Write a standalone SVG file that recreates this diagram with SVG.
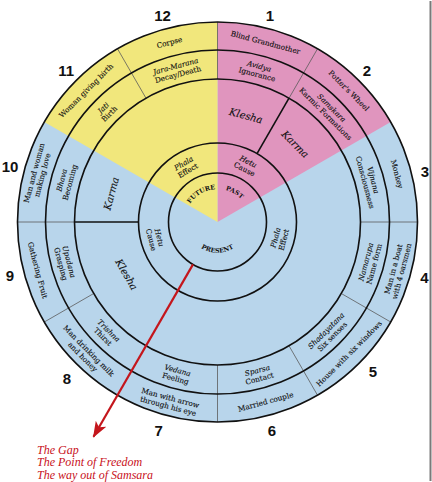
<svg xmlns="http://www.w3.org/2000/svg" width="432" height="482" viewBox="0 0 432 482">
<style>
.t{font-family:"DejaVu Serif",serif;font-size:7.3px;fill:#111;stroke:#111;stroke-width:0.12;text-anchor:middle}
.i{font-style:italic}
.big{font-size:10px;font-style:italic}
.num{font-family:"Liberation Sans",Arial,sans-serif;font-weight:bold;font-size:15px;fill:#111;text-anchor:middle}
.cap{font-family:"DejaVu Serif",serif;font-weight:bold;font-size:6.3px;fill:#111;text-anchor:middle}
.red{font-family:"Liberation Serif",serif;font-style:italic;font-size:12px;fill:#c8101a}
.ring{fill:none;stroke:#111;stroke-width:1.6}
.thin{stroke:#5a5a5a;stroke-width:0.8}
.thick{stroke:#111;stroke-width:1.6}
</style>
<defs>
<marker id="ah" markerUnits="userSpaceOnUse" markerWidth="17" markerHeight="13" refX="15" refY="6" orient="auto">
<path d="M0,0 L16,6 L0,12 L4,6 z" fill="#c4161c"/>
</marker>
<path id="presentArc" d="M186.8,222 A30.7 30.7 0 0 0 248.2,222"/>
<path id="topArc" d="M184.5,222 A33 33 0 0 1 250.5,222"/>
</defs>
<line x1="430.5" y1="1" x2="430.5" y2="481" stroke="#7a7a7a" stroke-width="2"/>
<g id="wheel">
<circle cx="217.5" cy="222" r="200" fill="#b8d5eb"/>
<path d="M217.5,222 L217.5,22 A200 200 0 0 1 390.7,122 Z" fill="#e095be"/>
<path d="M217.5,222 L44.3,122 A200 200 0 0 1 217.5,22 Z" fill="#f1e77c"/>
</g>
<g id="connectors">
<line class="thin" x1="217.5" y1="79" x2="217.5" y2="22"/>
<line class="thin" x1="289" y1="98.2" x2="317.5" y2="48.8"/>
<line class="thin" x1="360.5" y1="222" x2="417.5" y2="222"/>
<line class="thin" x1="341.3" y1="293.5" x2="390.7" y2="322"/>
<line class="thin" x1="289" y1="345.8" x2="317.5" y2="395.2"/>
<line class="thin" x1="217.5" y1="365" x2="217.5" y2="422"/>
<line class="thin" x1="93.7" y1="293.5" x2="44.3" y2="322"/>
<line class="thin" x1="74.5" y1="222" x2="17.5" y2="222"/>
<line class="thin" x1="146" y1="98.2" x2="117.5" y2="48.8"/>
<line class="thick" x1="257" y1="153.6" x2="289" y2="98.2"/>
<line class="thick" x1="138.5" y1="222" x2="74.5" y2="222"/>
<circle class="ring" cx="217.5" cy="222" r="200"/>
<circle class="ring" cx="217.5" cy="222" r="172"/>
<circle class="ring" cx="217.5" cy="222" r="143"/>
<circle class="ring" cx="217.5" cy="222" r="79"/>
<circle class="ring" cx="217.5" cy="222" r="49"/>
<line id="gap-arrow" x1="193" y1="264.4" x2="93.5" y2="436.8" stroke="#c4161c" stroke-width="2.2" marker-end="url(#ah)"/>
</g>
<g id="outer-ring">
<g id="o1" transform="translate(265.6,42.3) rotate(15)"><text class="t" y="2.7">Blind Grandmother</text></g>
<g id="o2" transform="translate(349,90.5) rotate(45)"><text class="t" y="2.7">Potter's Wheel</text></g>
<g id="o3" transform="translate(397.2,173.9) rotate(75)"><text class="t" y="2.7">Monkey</text></g>
<g id="o4" transform="translate(397.2,270.1) rotate(-75)"><text class="t" y="-1.3">Man in a boat</text><text class="t" y="7.2">with 4 oarsmen</text></g>
<g id="o5" transform="translate(349,353.5) rotate(-45)"><text class="t" y="2.7">House with six windows</text></g>
<g id="o6" transform="translate(265.6,401.7) rotate(-15)"><text class="t" y="2.7">Married couple</text></g>
<g id="o7" transform="translate(169.4,401.7) rotate(15)"><text class="t" y="-1.3">Man with arrow</text><text class="t" y="7.2">through his eye</text></g>
<g id="o8" transform="translate(86,353.5) rotate(45)"><text class="t" y="-1.3">Man drinking milk</text><text class="t" y="7.2">and honey</text></g>
<g id="o9" transform="translate(37.8,270.1) rotate(75)"><text class="t" y="2.7">Gathering Fruit</text></g>
<g id="o10" transform="translate(37.8,173.9) rotate(-75)"><text class="t" y="-1.3">Man and woman</text><text class="t" y="7.2">making love</text></g>
<g id="o11" transform="translate(86,90.5) rotate(-45)"><text class="t" y="2.7">Woman giving birth</text></g>
<g id="o12" transform="translate(169.4,42.3) rotate(-15)"><text class="t" y="2.7">Corpse</text></g>
</g>
<g id="links">
<g id="l1" transform="translate(258.3,69.9) rotate(15)"><text class="t i" y="-1.3">Avidya</text><text class="t" y="7.2">Ignorance</text></g>
<g id="l2" transform="translate(328.9,110.6) rotate(45)"><text class="t i" y="-1.3">Samskara</text><text class="t" y="7.2">Karmic Formations</text></g>
<g id="l3" transform="translate(369.6,181.2) rotate(75)"><text class="t i" y="-1.3">Vijnana</text><text class="t" y="7.2">Consciousness</text></g>
<g id="l4" transform="translate(369.6,262.8) rotate(-75)"><text class="t i" y="-1.3">Namarupa</text><text class="t" y="7.2">Name form</text></g>
<g id="l5" transform="translate(328.9,333.4) rotate(-45)"><text class="t i" y="-1.3">Shadayatana</text><text class="t" y="7.2">Six senses</text></g>
<g id="l6" transform="translate(258.3,374.1) rotate(-15)"><text class="t i" y="-1.3">Sparsa</text><text class="t" y="7.2">Contact</text></g>
<g id="l7" transform="translate(176.7,374.1) rotate(15)"><text class="t i" y="-1.3">Vedana</text><text class="t" y="7.2">Feeling</text></g>
<g id="l8" transform="translate(106.1,333.4) rotate(45)"><text class="t i" y="-1.3">Trishna</text><text class="t" y="7.2">Thirst</text></g>
<g id="l9" transform="translate(65.4,262.8) rotate(75)"><text class="t i" y="-1.3">Upadana</text><text class="t" y="7.2">Grasping</text></g>
<g id="l10" transform="translate(65.4,181.2) rotate(-75)"><text class="t i" y="-1.3">Bhava</text><text class="t" y="7.2">Becoming</text></g>
<g id="l11" transform="translate(106.1,110.6) rotate(-45)"><text class="t i" y="-1.3">Jati</text><text class="t" y="7.2">Birth</text></g>
<g id="l12" transform="translate(176.7,69.9) rotate(-15)"><text class="t i" y="-1.3">Jara-Marana</text><text class="t" y="7.2">Decay/Death</text></g>
</g>
<g id="groups">
<g id="klesha-past" transform="translate(246,115.7) rotate(15)"><text class="t big" y="3.5">Klesha</text></g>
<g id="karma-past" transform="translate(295.3,144.2) rotate(45)"><text class="t big" y="3.5">Karma</text></g>
<g id="karma-present" transform="translate(111.2,193.5) rotate(-75)"><text class="t big" y="3.5">Karma</text></g>
<g id="klesha-present" transform="translate(126.6,274.5) rotate(60)"><text class="t big" y="3.5">Klesha</text></g>
</g>
<g id="cause-effect">
<g id="hetu-past" transform="translate(246.5,165) rotate(27)"><text class="t i" y="-1.3">Hetu</text><text class="t" y="7.2">Cause</text></g>
<g id="phala-future" transform="translate(185.5,166.6) rotate(-30)"><text class="t i" y="-1.3">Phala</text><text class="t" y="7.2">Effect</text></g>
<g id="phala-present" transform="translate(279.3,238.6) rotate(-75)"><text class="t i" y="-1.3">Phala</text><text class="t" y="7.2">Effect</text></g>
<g id="hetu-present" transform="translate(155.7,238.6) rotate(75)"><text class="t i" y="-1.3">Hetu</text><text class="t" y="7.2">Cause</text></g>
</g>
<g id="times">
<text class="cap"><textPath href="#topArc" startOffset="66.7%">PAST</textPath></text>
<text class="cap"><textPath href="#topArc" startOffset="33.3%">FUTURE</textPath></text>
<text class="cap"><textPath href="#presentArc" startOffset="50%">PRESENT</textPath></text>
</g>
<g id="numbers">
<text class="num" x="270" y="20.7">1</text>
<text class="num" x="367" y="76">2</text>
<text class="num" x="425" y="177.3">3</text>
<text class="num" x="424.3" y="282.7">4</text>
<text class="num" x="373" y="377.3">5</text>
<text class="num" x="272" y="436">6</text>
<text class="num" x="158.7" y="435.7">7</text>
<text class="num" x="67" y="384">8</text>
<text class="num" x="10" y="280.7">9</text>
<text class="num" x="10" y="171.7">10</text>
<text class="num" x="66.3" y="76">11</text>
<text class="num" x="162.5" y="20.7">12</text>
</g>
<g id="gap-label">
<text class="red" x="37" y="453.5">The Gap</text>
<text class="red" x="37" y="466">The Point of Freedom</text>
<text class="red" x="37" y="479">The way out of Samsara</text>
</g>
</svg>
